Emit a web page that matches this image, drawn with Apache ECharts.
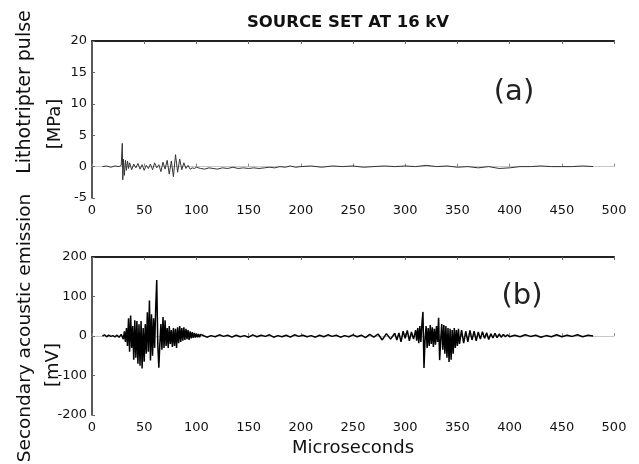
<!DOCTYPE html>
<html>
<head>
<meta charset="utf-8">
<script src="https://cdn.jsdelivr.net/npm/echarts@6/dist/echarts.min.js"></script>
<style>
  html, body { margin: 0; padding: 0; background: #fff; }
  #chart { width: 639px; height: 464px; }
</style>
</head>
<body>
<div id="chart"></div>
<script>
// (a) lithotripter pulse, MPa
var pulseT = [10, 14, 18, 22, 26, 28,
  29, 29.5, 30, 31, 32, 33, 34, 35, 36,
  38, 40, 42, 44, 46, 48, 50, 52, 54, 56, 58, 60, 62, 64, 66, 68, 70, 72, 74, 76, 78, 80, 82, 84, 86, 88, 90, 92, 94, 96, 98, 100,
  104, 108, 112, 116, 120,
  125, 130, 135, 140, 145, 150, 155, 160, 165, 170, 175, 180, 185, 190, 195, 200,
  210, 220, 230, 240, 250, 260, 270, 280, 290, 300, 310, 320, 330, 340, 350, 360, 370, 380, 390, 400, 410, 420, 430, 440, 450, 460, 470, 480];
var pulseV = [0, 0.1, -0.1, 0.1, 0, 0.2,
  3.7, -2.1, 1.2, -1.4, 1.0, -0.6, 0.9, -0.3, 0.6,
  -0.5, 0.4, -0.2, 0.5, -0.4, 0.3, -0.6, 0.2, -0.3, 0.4, -0.5, 0.6, -0.2, 0.3, -0.8, 0.7, -0.4, 1.0, -1.2, 0.9, -1.6, 1.9, -0.9, 1.2, -0.5, 0.6, -0.3, 0.2, -0.4, -0.2, -0.3, -0.1,
  -0.3, -0.4, -0.2, -0.3, -0.4,
  -0.2, -0.3, -0.1, -0.3, -0.2, -0.3, -0.2, -0.3, -0.2, -0.1, -0.2, 0, -0.1, 0.1, -0.1, 0,
  0.1, -0.1, 0.1, 0, 0.1, -0.1, 0, 0.1, 0, 0.1, 0, 0.2, 0, 0.1, -0.1, 0, -0.2, 0, -0.3, -0.2, 0, 0, 0.1, 0, 0, 0, 0.1, 0];

// (b) secondary acoustic emission, mV
var emisT = [10, 12, 14, 16, 18, 20, 22, 24, 26, 28,
  30, 31, 32, 33, 34, 35, 36, 37, 38, 39, 40, 41, 42, 43, 44, 45, 46, 47, 48, 49,
  50, 51, 52, 53, 54, 55, 56, 57, 58, 59, 60, 61, 62, 63, 64, 65, 66, 67, 68, 69,
  70, 71, 72, 73, 74, 75, 76, 77, 78, 79, 80, 81, 82, 83, 84, 85, 86, 87, 88, 89,
  90, 91, 92, 93, 94, 95, 96, 97, 98, 99, 100, 101, 102, 103, 104,
  106, 110, 114, 118, 122, 126, 130, 134, 138, 142, 146, 150, 154, 158, 162, 166, 170, 174, 178, 182,
  186, 190, 194, 198, 202, 206, 210, 214, 218, 222, 226, 230, 234, 238, 242, 246, 250, 254, 258, 262,
  266, 270, 274, 278, 282, 286, 290,
  292, 294, 296, 298, 300, 302, 304, 306, 308,
  310, 311, 312, 313, 314, 315, 316, 317, 318, 319, 320, 321, 322, 323, 324, 325, 326, 327, 328, 329,
  330, 331, 332, 333, 334, 335, 336, 337, 338, 339, 340, 341, 342, 343, 344, 345, 346, 347, 348, 349,
  350, 351, 352,
  354, 356, 358, 360, 362, 364, 366, 368, 370, 372, 374, 376, 378, 380, 382, 384, 386, 388, 390, 392,
  394, 396, 398, 400,
  405, 410, 415, 420, 425, 430, 435, 440, 445, 450, 455, 460, 465, 470, 475, 480];
var emisV = [0, 3, -2, 2, -1, 1, -2, 2, -3, 4,
  -8, 12, -15, 20, -25, 45, -40, 52, -30, 25, -60, 40, -55, 38, -70, 30, -75, 38, -82, 20,
  -65, 30, -45, 60, -40, 90, -62, 55, -50, 45, -30, 70, 142, -20, -80, -20, 30, -35, 48, -30,
  40, -25, 20, -30, 25, -20, 15, -28, 20, -25, 18, -30, 22, -18, 25, -15, 20, -12, 22, -10,
  18, -8, 15, -10, 12, -6, 10, -5, 8, -4, 6, -3, 5, -3, 4,
  2, -3, 1, -2, 3, -1, 2, -3, 2, -2, 1, -3, 3, -2, 2, -1, 3, -3, 1, -2,
  2, -3, 3, -1, 2, -2, 1, -3, 2, -2, 3, -1, 2, -3, 1, -2, 3, -2, 2, -4,
  4, -3, 5, -10, 6, -8, 7,
  -10, 8, -15, 12, -6, 14, -12, 10, -8,
  15, -12, 20, -18, 25, -15, 30, 61, -81, -10, 25, -30, 20, -25, 28, -20, 22, -28, 18, -22,
  25, -15, 46, -61, -10, 30, -35, 28, -45, 25, -55, 20, -66, 18, -60, 15, -45, 20, -30, 15,
  -25, 18, -20,
  15, -18, 12, -15, 14, -10, 12, -12, 10, -8, 11, -6, 8, -9, 6, -5, 7, -4, 5, -3,
  4, -2, 3, -2,
  2, -2, 3, -1, 2, -3, 1, -2, 3, -2, 2, -1, 3, -2, 2, 0];

var xTicks = { min: 0, max: 500, interval: 50 };

function pairs(t, v) {
  var out = [];
  for (var i = 0; i < Math.min(t.length, v.length); i++) out.push([t[i], v[i]]);
  return out;
}

var font = 'DejaVu Sans, Verdana, sans-serif';
var myChart = echarts.init(document.getElementById('chart'));

function bottomX(grid, name) {
  return {
    gridIndex: grid, type: 'value', position: 'bottom',
    min: xTicks.min, max: xTicks.max, interval: xTicks.interval,
    name: name, nameLocation: 'middle', nameGap: 24,
    nameTextStyle: { fontFamily: font, fontSize: 18, color: '#111' },
    axisLine: { show: true, lineStyle: { color: '#c8c8c8', width: 1 } },
    axisTick: { inside: true, length: 3, lineStyle: { color: '#888' } },
    axisLabel: { fontFamily: font, fontSize: 13, color: '#111', margin: 6 },
    splitLine: { show: false }
  };
}
function topX(grid) {
  return {
    gridIndex: grid, type: 'value', position: 'top',
    min: xTicks.min, max: xTicks.max, interval: xTicks.interval,
    axisLine: { show: true, lineStyle: { color: '#222', width: 2 } },
    axisTick: { inside: true, length: 3, lineStyle: { color: '#666' } },
    axisLabel: { show: false },
    splitLine: { show: false }
  };
}
function leftY(grid, min, max, step) {
  return {
    gridIndex: grid, type: 'value', min: min, max: max, interval: step,
    axisLine: { show: true, lineStyle: { color: '#222', width: 1.5 } },
    axisTick: { show: true, inside: true, length: 3, lineStyle: { color: '#666' } },
    axisLabel: { fontFamily: font, fontSize: 13, color: '#111', margin: 5 },
    splitLine: { show: false }
  };
}

var option = {
  backgroundColor: '#fff',
  animation: false,
  title: {
    text: 'SOURCE SET AT 16 kV',
    left: 343, top: 9, textAlign: 'center',
    textStyle: { fontFamily: font, fontSize: 16.5, fontWeight: 'bold', color: '#111' }
  },
  grid: [
    { left: 92, right: 25, top: 41, height: 157 },
    { left: 92, right: 25, top: 257, height: 158 }
  ],
  xAxis: [bottomX(0, ''), topX(0), bottomX(1, 'Microseconds'), topX(1)],
  yAxis: [leftY(0, -5, 20, 5), leftY(1, -200, 200, 100)],
  graphic: [
    { type: 'text', x: 25, y: 92, rotation: Math.PI / 2,
      style: { text: 'Lithotripter pulse', font: '19px ' + font, fill: '#111', textAlign: 'center', textVerticalAlign: 'middle' } },
    { type: 'text', x: 55, y: 124, rotation: Math.PI / 2,
      style: { text: '[MPa]', font: '18px ' + font, fill: '#111', textAlign: 'center', textVerticalAlign: 'middle' } },
    { type: 'text', x: 25, y: 328, rotation: Math.PI / 2,
      style: { text: 'Secondary acoustic emission', font: '18.5px ' + font, fill: '#111', textAlign: 'center', textVerticalAlign: 'middle' } },
    { type: 'text', x: 53, y: 365, rotation: Math.PI / 2,
      style: { text: '[mV]', font: '18px ' + font, fill: '#111', textAlign: 'center', textVerticalAlign: 'middle' } },
    { type: 'text', x: 514, y: 92,
      style: { text: '(a)', font: '29px ' + font, fill: '#222', textAlign: 'center', textVerticalAlign: 'middle' } },
    { type: 'text', x: 522, y: 296,
      style: { text: '(b)', font: '29px ' + font, fill: '#222', textAlign: 'center', textVerticalAlign: 'middle' } }
  ],
  series: [
    {
      name: 'Lithotripter pulse', type: 'line', xAxisIndex: 0, yAxisIndex: 0,
      showSymbol: false, smooth: false,
      lineStyle: { color: '#333', width: 1 },
      data: pairs(pulseT, pulseV)
    },
    {
      name: 'Secondary acoustic emission', type: 'line', xAxisIndex: 2, yAxisIndex: 1,
      showSymbol: false, smooth: false,
      lineStyle: { color: '#000', width: 1.5 },
      data: pairs(emisT, emisV)
    }
  ]
};
myChart.setOption(option);
</script>
</body>
</html>
